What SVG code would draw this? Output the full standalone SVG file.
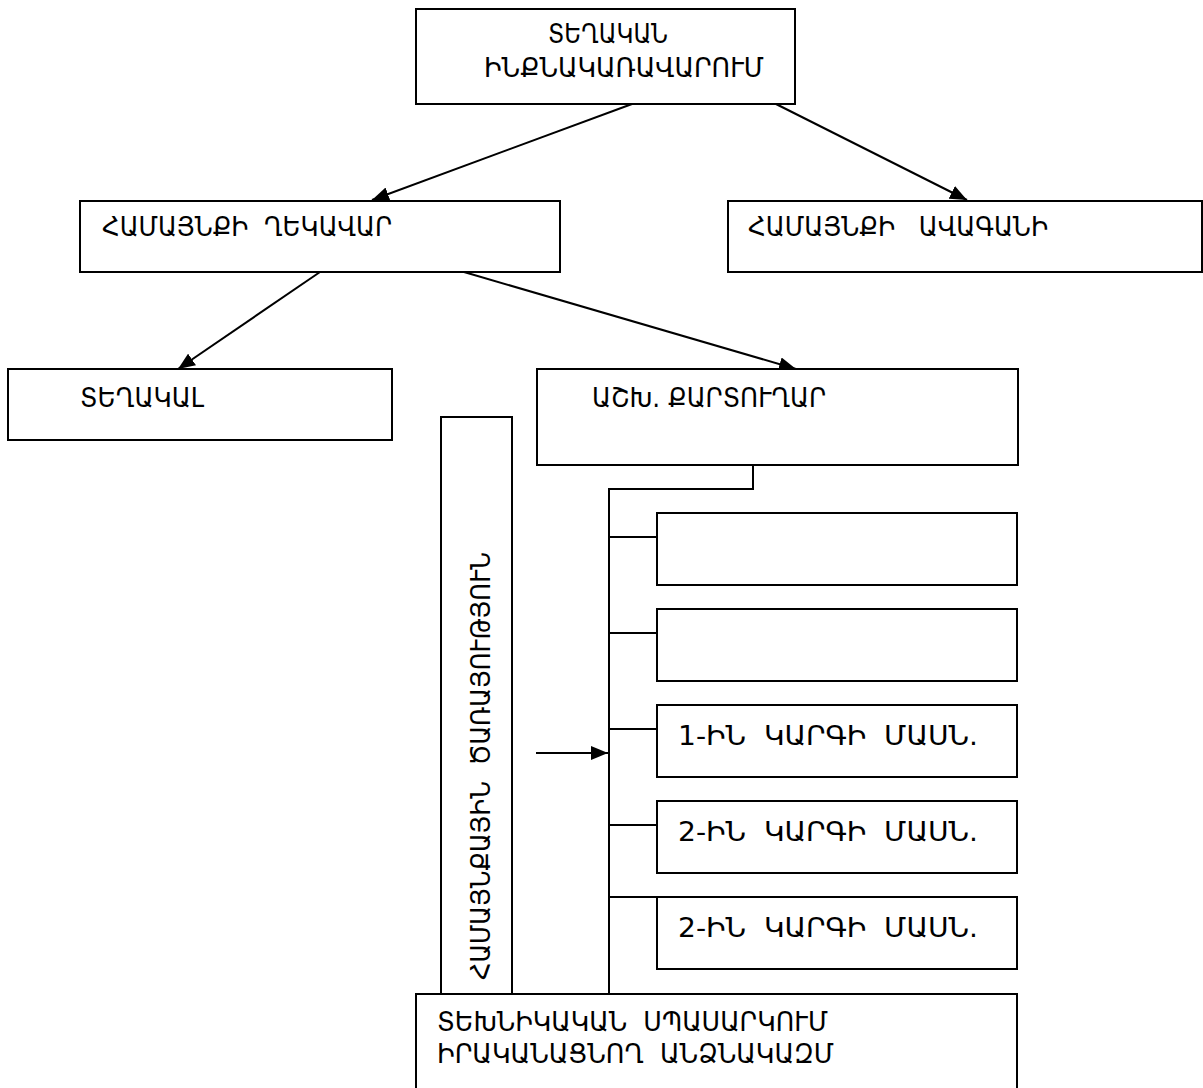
<svg xmlns="http://www.w3.org/2000/svg" width="1203" height="1088" viewBox="0 0 1203 1088">
<style>
.box{fill:#fff;stroke:#000;stroke-width:2}
.t{font-family:"DejaVu Sans",sans-serif;font-size:26px;fill:#000}
.c{fill:none;stroke:#000;stroke-width:2}
</style>
<defs>
<marker id="ah" markerUnits="userSpaceOnUse" markerWidth="18" markerHeight="14" refX="17" refY="7" orient="auto">
<path d="M0,0 L17,7 L0,14 Z" fill="#000"/>
</marker>
</defs>
<rect width="1203" height="1088" fill="#fff"/>
<g id="connectors">
<line class="c" x1="632" y1="104" x2="372" y2="200" marker-end="url(#ah)"/>
<line class="c" x1="776" y1="104" x2="967" y2="200" marker-end="url(#ah)"/>
<line class="c" x1="320" y1="272" x2="178" y2="369" marker-end="url(#ah)"/>
<line class="c" x1="464" y1="272" x2="796" y2="369" marker-end="url(#ah)"/>
<polyline class="c" points="753,465 753,489 609,489 609,994"/>
<line class="c" x1="609" y1="537" x2="657" y2="537"/>
<line class="c" x1="609" y1="633" x2="657" y2="633"/>
<line class="c" x1="609" y1="729" x2="657" y2="729"/>
<line class="c" x1="609" y1="825" x2="657" y2="825"/>
<line class="c" x1="609" y1="897" x2="657" y2="897"/>
<line class="c" x1="536" y1="753" x2="608" y2="753" marker-end="url(#ah)"/>
</g>
<g id="n-top">
<rect class="box" x="416" y="9" width="379" height="95"/>
<text class="t" x="548" y="43" textLength="120" lengthAdjust="spacingAndGlyphs">ՏԵՂԱԿԱՆ</text>
<text class="t" x="484" y="77" textLength="280" lengthAdjust="spacingAndGlyphs">ԻՆՔՆԱԿԱՌԱՎԱՐՈՒՄ</text>
</g>
<g id="n-ghekavar">
<rect class="box" x="80" y="201" width="480" height="71"/>
<text class="t" x="102" y="236" xml:space="preserve" textLength="290" lengthAdjust="spacingAndGlyphs">ՀԱՄԱՅՆՔԻ  ՂԵԿԱՎԱՐ</text>
</g>
<g id="n-avagani">
<rect class="box" x="728" y="201" width="474" height="71"/>
<text class="t" x="748" y="236" xml:space="preserve" textLength="300" lengthAdjust="spacingAndGlyphs">ՀԱՄԱՅՆՔԻ   ԱՎԱԳԱՆԻ</text>
</g>
<g id="n-teghakal">
<rect class="box" x="8" y="369" width="384" height="71"/>
<text class="t" x="80" y="407" textLength="124" lengthAdjust="spacingAndGlyphs">ՏԵՂԱԿԱԼ</text>
</g>
<g id="n-kartughar">
<rect class="box" x="537" y="369" width="481" height="96"/>
<text class="t" x="592" y="407" textLength="234" lengthAdjust="spacingAndGlyphs">ԱՇԽ. ՔԱՐՏՈՒՂԱՐ</text>
</g>
<g id="n-tsarayutyun">
<rect class="box" x="441" y="417" width="71" height="577"/>
<text class="t" transform="translate(490,980) rotate(-90)" xml:space="preserve" textLength="428" lengthAdjust="spacingAndGlyphs">ՀԱՄԱՅՆՔԱՅԻՆ  ԾԱՌԱՅՈՒԹՅՈՒՆ</text>
</g>
<g id="n-a"><rect class="box" x="657" y="513" width="360" height="72"/></g>
<g id="n-b"><rect class="box" x="657" y="609" width="360" height="72"/></g>
<g id="n-c">
<rect class="box" x="657" y="705" width="360" height="72"/>
<text class="t" x="678" y="745" xml:space="preserve" textLength="300" lengthAdjust="spacingAndGlyphs">1-ԻՆ  ԿԱՐԳԻ  ՄԱՍՆ.</text>
</g>
<g id="n-d">
<rect class="box" x="657" y="801" width="360" height="72"/>
<text class="t" x="678" y="841" xml:space="preserve" textLength="300" lengthAdjust="spacingAndGlyphs">2-ԻՆ  ԿԱՐԳԻ  ՄԱՍՆ.</text>
</g>
<g id="n-e">
<rect class="box" x="657" y="897" width="360" height="72"/>
<text class="t" x="678" y="937" xml:space="preserve" textLength="300" lengthAdjust="spacingAndGlyphs">2-ԻՆ  ԿԱՐԳԻ  ՄԱՍՆ.</text>
</g>
<g id="n-bottom">
<rect class="box" x="416" y="994" width="601" height="110"/>
<text class="t" x="437" y="1031" xml:space="preserve" textLength="391" lengthAdjust="spacingAndGlyphs">ՏԵԽՆԻԿԱԿԱՆ  ՍՊԱՍԱՐԿՈՒՄ</text>
<text class="t" x="437" y="1063" xml:space="preserve" textLength="397" lengthAdjust="spacingAndGlyphs">ԻՐԱԿԱՆԱՑՆՈՂ  ԱՆՁՆԱԿԱԶՄ</text>
</g>
</svg>
